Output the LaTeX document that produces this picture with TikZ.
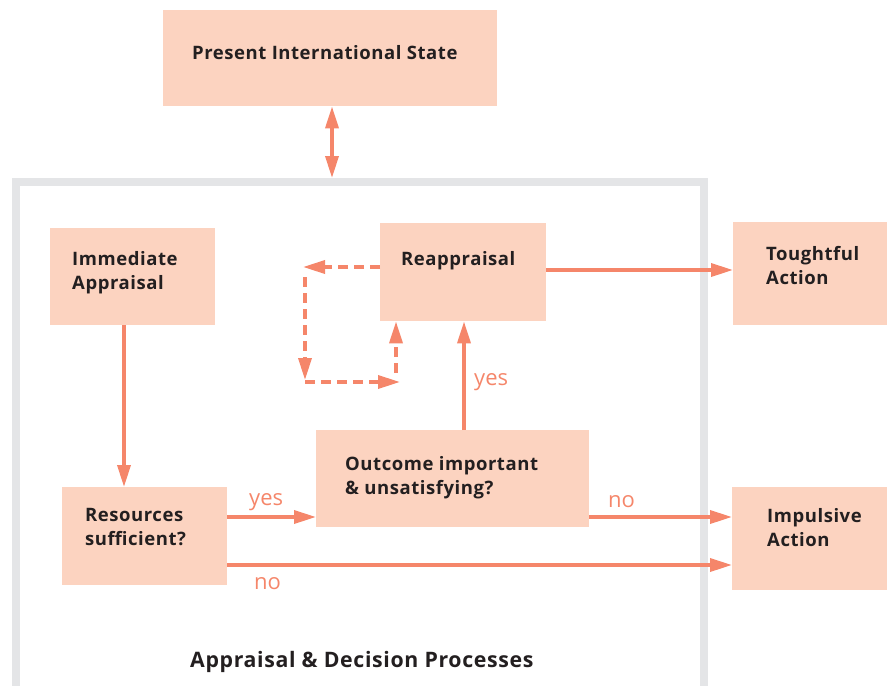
\documentclass[tikz,border=0pt]{standalone}
\usepackage{fontspec}
\setmainfont{Open Sans}
\newfontfamily\boxfont{Open Sans}[LetterSpace=3.0]
\usetikzlibrary{arrows.meta}
\definecolor{boxfill}{HTML}{FCD3C0}
\definecolor{arrcol}{HTML}{F5866A}
\definecolor{framecol}{HTML}{E4E5E7}
\definecolor{txtcol}{HTML}{231F20}
\tikzset{
  box/.style={fill=boxfill, draw=none, anchor=north west, inner sep=0pt},
  txt/.style={anchor=base west, inner sep=0pt, text=txtcol, font=\boxfont\fontsize{18.5}{24.5}\selectfont\bfseries},
  ttl/.style={txt, font=\boxfont\fontsize{21.3}{26}\selectfont\bfseries},
  lbl/.style={anchor=base west, inner sep=0pt, text=arrcol, font=\fontsize{22}{26}\selectfont},
  arr/.style={draw=arrcol, line width=3.5pt, -{Triangle[length=22pt,width=13pt]}},
  darr/.style={draw=arrcol, line width=3.5pt, {Triangle[length=22pt,width=13pt]}-{Triangle[length=22pt,width=13pt]}},
  dash arr/.style={arr, dash pattern=on 10pt off 6pt}
}
\newcommand{\twoline}[2]{\begin{tabular}[t]{@{}l@{}}#1\\#2\end{tabular}}
\begin{document}
\begin{tikzpicture}[x=1pt,y=-1pt]
\useasboundingbox (0,0) rectangle (887,686);
% frame
\draw[framecol, line width=8pt] (16,182) rectangle (704,700);
% boxes
\node[box, minimum width=334pt, minimum height=96pt] (pis) at (163,10) {};
\node[box, minimum width=165pt, minimum height=97pt] (imm) at (50,228) {};
\node[box, minimum width=166pt, minimum height=98pt] (rea) at (380,223) {};
\node[box, minimum width=154pt, minimum height=103pt] (tho) at (733,222) {};
\node[box, minimum width=273pt, minimum height=97pt] (out) at (316,430) {};
\node[box, minimum width=165pt, minimum height=98pt] (res) at (62,487) {};
\node[box, minimum width=155pt, minimum height=103pt] (imp) at (732,487) {};
% texts
\node[txt] (pist) at (192,59) {Present International State};
\node[txt] (immt) at (72,265) {\twoline{Immediate}{Appraisal}};
\node[txt] (reat) at (401,265) {Reappraisal};
\node[txt] (thot) at (766,260) {\twoline{Toughtful}{Action}};
\node[txt] (outt) at (345,470) {\twoline{Outcome important}{\& unsatisfying?}};
\node[txt] (rest) at (85,521) {\twoline{Resources}{sufficient?}};
\node[txt] (impt) at (767,522) {\twoline{Impulsive}{Action}};
\node[ttl] (title) at (190,667) {Appraisal \& Decision Processes};
% connectors
\coordinate (ftop) at (332,178);
\draw[darr] (pis.south -| ftop) -- (ftop);
\draw[arr] (imm.south -| 124,0) -- (res.north -| 124,0);
\draw[arr] (res.east |- 0,517) -- (out.west |- 0,517);
\draw[arr] (out.east |- 0,517) -- (imp.west |- 0,517);
\draw[arr] (res.east |- 0,565) -- (imp.west |- 0,565);
\draw[arr] (out.north -| 464,0) -- (rea.south -| 464,0);
\draw[arr] (rea.east |- 0,270) -- (tho.west |- 0,270);
% dashed loop
\coordinate (d1) at (303,267);
\coordinate (d2) at (305,277);
\coordinate (d3) at (305,380);
\coordinate (d4) at (305,382);
\coordinate (d5) at (400,382);
\coordinate (d6) at (396,373);
\draw[dash arr] (rea.west |- d1) -- (d1);
\draw[dash arr] (d2) -- (d3);
\draw[dash arr] (d4) -- (d5);
\draw[dash arr] (d6) -- (rea.south -| d6);
% labels
\node[lbl] (l1) at (249,505) {yes};
\node[lbl] (l2) at (608,507) {no};
\node[lbl] (l3) at (254,589) {no};
\node[lbl] (l4) at (474,385) {yes};
\end{tikzpicture}
\end{document}
